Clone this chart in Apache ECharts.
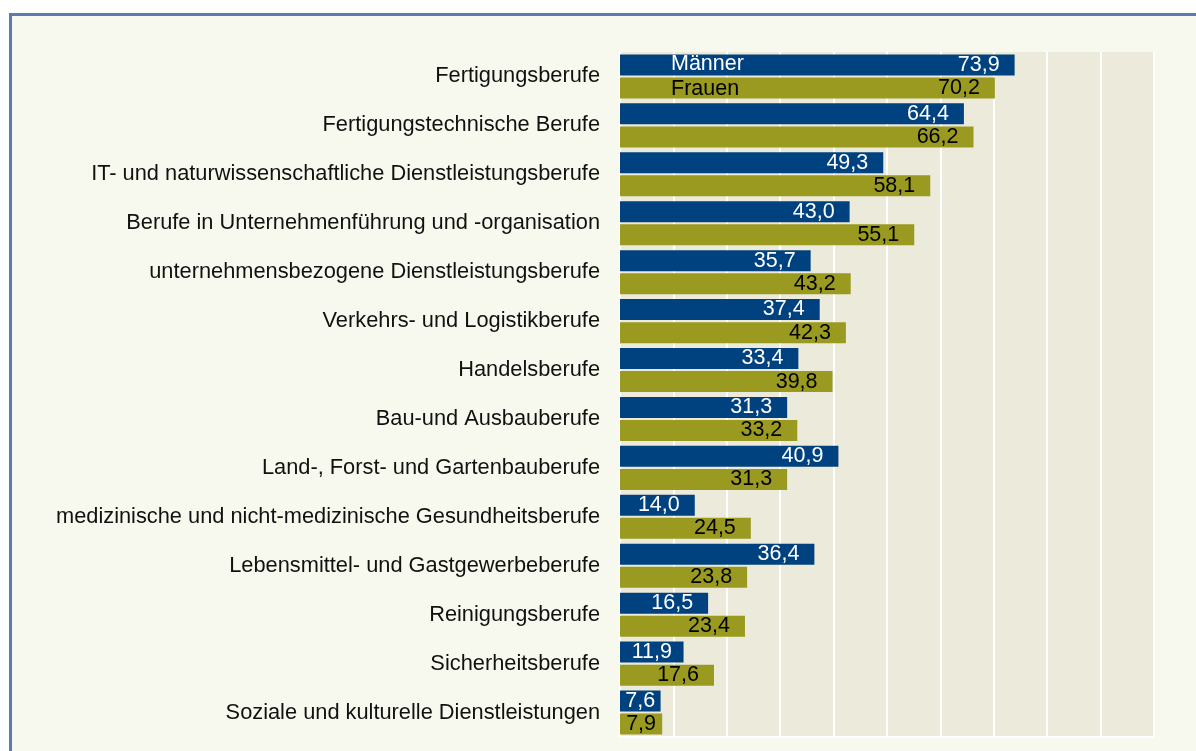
<!DOCTYPE html>
<html>
<head>
<meta charset="utf-8">
<script src="https://cdn.jsdelivr.net/npm/echarts@6/dist/echarts.min.js"></script>
<style>
html,body{margin:0;padding:0;background:#ffffff;}
#c{width:1196px;height:751px;}
</style>
</head>
<body>
<div id="c"></div>
<script>
const categories = [
  "Fertigungsberufe",
  "Fertigungstechnische Berufe",
  "IT- und naturwissenschaftliche Dienstleistungsberufe",
  "Berufe in Unternehmenführung und -organisation",
  "unternehmensbezogene Dienstleistungsberufe",
  "Verkehrs- und Logistikberufe",
  "Handelsberufe",
  "Bau-und Ausbauberufe",
  "Land-, Forst- und Gartenbauberufe",
  "medizinische und nicht-medizinische Gesundheitsberufe",
  "Lebensmittel- und Gastgewerbeberufe",
  "Reinigungsberufe",
  "Sicherheitsberufe",
  "Soziale und kulturelle Dienstleistungen"
];
const maenner = [73.9, 64.4, 49.3, 43.0, 35.7, 37.4, 33.4, 31.3, 40.9, 14.0, 36.4, 16.5, 11.9, 7.6];
const frauen  = [70.2, 66.2, 58.1, 55.1, 43.2, 42.3, 39.8, 33.2, 31.3, 24.5, 23.8, 23.4, 17.6, 7.9];
const seriesNames = ["Männer", "Frauen"];

const FONT = "'Liberation Sans', Arial, sans-serif";
const FS = 21.5;
const fmt = p => p.value.toFixed(1).replace('.', ',');

// labels that do not fit at the bar end are centred in the bar (as in the original)
function items(values) {
  return values.map(v => v < 13.5 ? { value: v, label: { position: 'inside' } } : v);
}
function labelFor(color) {
  return {
    show: true, position: 'insideRight', distance: 15,
    color: color, fontSize: FS, fontFamily: FONT, formatter: fmt
  };
}
function nameMark(name, color, dy) {
  return {
    symbol: 'rect', symbolSize: 0,
    data: [{ coord: [0, categories[0]] }],
    label: {
      show: true, position: 'right', distance: 51, offset: [0, dy],
      formatter: name, color: color, fontSize: FS, fontFamily: FONT
    }
  };
}

const chart = echarts.init(document.getElementById('c'), null, { renderer: 'canvas' });
chart.setOption({
  animation: false,
  backgroundColor: '#ffffff',
  graphic: [{
    type: 'rect', z: -100, silent: true,
    shape: { x: 10.5, y: 14.5, width: 1400, height: 900 },
    style: { fill: '#f8f9ee', stroke: '#5b7aae', lineWidth: 3 }
  }],
  grid: {
    left: 620, top: 52, width: 534, height: 685,
    show: true, backgroundColor: '#eceadb', borderWidth: 0
  },
  xAxis: {
    type: 'value', min: 0, max: 100, interval: 10,
    axisLabel: { show: false }, axisTick: { show: false },
    axisLine: { show: true, lineStyle: { color: '#ffffff', width: 2 } },
    splitLine: { show: true, lineStyle: { color: '#ffffff', width: 2 } }
  },
  yAxis: {
    type: 'category', inverse: true, data: categories,
    axisTick: { show: false },
    axisLine: { show: true, lineStyle: { color: '#ffffff', width: 2 } },
    axisLabel: { color: '#111111', fontSize: 21.8, fontFamily: FONT, margin: 20 }
  },
  series: [
    {
      name: seriesNames[0], type: 'bar', data: items(maenner), barWidth: 21, barGap: '10%',
      itemStyle: { color: '#00427f' }, label: labelFor('#ffffff'),
      markPoint: nameMark(seriesNames[0], '#ffffff', -1)
    },
    {
      name: seriesNames[1], type: 'bar', data: items(frauen), barWidth: 21, barGap: '10%',
      itemStyle: { color: '#999a1f' }, label: labelFor('#000000'),
      markPoint: nameMark(seriesNames[1], '#000000', 1)
    }
  ]
});
</script>
</body>
</html>
